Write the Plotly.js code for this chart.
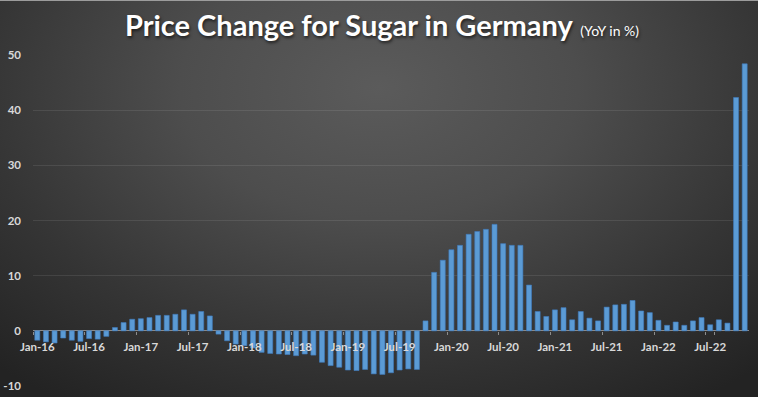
<!DOCTYPE html>
<html>
<head>
<meta charset="utf-8">
<script src="https://cdn.plot.ly/plotly-3.0.1.min.js"></script>
<style>
  html, body { margin: 0; padding: 0; }
  body { width: 758px; height: 397px; overflow: hidden;
    background: radial-gradient(ellipse 75% 95% at 50% 22%, #5b5b5b 0%, #4d4d4d 35%, #353535 70%, #232323 100%); }
  #chart { width: 758px; height: 397px; box-sizing: border-box; border-top: 1px solid #9c9c9c; }
</style>
</head>
<body>
<div id="chart"></div>
<script>
const categories = [
  "Jan-16","Feb-16","Mar-16","Apr-16","May-16","Jun-16","Jul-16","Aug-16","Sep-16","Oct-16","Nov-16","Dec-16",
  "Jan-17","Feb-17","Mar-17","Apr-17","May-17","Jun-17","Jul-17","Aug-17","Sep-17","Oct-17","Nov-17","Dec-17",
  "Jan-18","Feb-18","Mar-18","Apr-18","May-18","Jun-18","Jul-18","Aug-18","Sep-18","Oct-18","Nov-18","Dec-18",
  "Jan-19","Feb-19","Mar-19","Apr-19","May-19","Jun-19","Jul-19","Aug-19","Sep-19","Oct-19","Nov-19","Dec-19",
  "Jan-20","Feb-20","Mar-20","Apr-20","May-20","Jun-20","Jul-20","Aug-20","Sep-20","Oct-20","Nov-20","Dec-20",
  "Jan-21","Feb-21","Mar-21","Apr-21","May-21","Jun-21","Jul-21","Aug-21","Sep-21","Oct-21","Nov-21","Dec-21",
  "Jan-22","Feb-22","Mar-22","Apr-22","May-22","Jun-22","Jul-22","Aug-22","Sep-22","Oct-22","Nov-22"
];
const values2016 = [-1.7, -2.0, -2.2, -1.3, -1.7, -1.9, -1.4, -1.5, -1.0, 0.6, 1.5, 2.1];
const values2017 = [2.2, 2.4, 2.8, 2.8, 3.0, 3.8, 3.0, 3.5, 2.7, -0.6, -1.8, -2.4];
const values2018 = [-2.7, -3.1, -3.9, -4.1, -4.2, -4.3, -4.5, -4.2, -4.4, -5.7, -6.3, -6.6];
const values2019 = [-7.1, -7.2, -7.0, -7.8, -7.9, -7.6, -7.1, -6.9, -7.0, 1.8, 10.6, 12.8];
const values2020 = [14.7, 15.5, 17.5, 18.0, 18.4, 19.3, 15.8, 15.5, 15.5, 8.3, 3.5, 2.6];
const values2021 = [3.8, 4.2, 2.0, 3.5, 2.3, 1.8, 4.3, 4.7, 4.8, 5.5, 3.6, 3.3];
const values2022 = [1.9, 1.0, 1.6, 1.0, 1.8, 2.4, 1.1, 2.0, 1.4, 42.3, 48.4];
const tickLabels = ["Jan-16","Jul-16","Jan-17","Jul-17","Jan-18","Jul-18","Jan-19","Jul-19","Jan-20","Jul-20","Jan-21","Jul-21","Jan-22","Jul-22"];
const yTicks = [-10, 0, 10, 20, 30, 40, 50];

const values = [].concat(values2016, values2017, values2018, values2019, values2020, values2021, values2022);

const trace = {
  type: "bar",
  x: categories,
  y: values,
  marker: { color: "#5b9bd5", line: { color: "#3f7cbf", width: 0.6 } },
  hoverinfo: "x+y"
};

const layout = {
  width: 758, height: 397,
  paper_bgcolor: "rgba(0,0,0,0)",
  plot_bgcolor: "rgba(0,0,0,0)",
  margin: { l: 33, r: 9, t: 54, b: 12, pad: 0 },
  bargap: 0.42,
  showlegend: false,
  title: {
    text: "<b>Price Change for Sugar in Germany</b> <span style='font-size:14px'>(YoY in %)</span>",
    x: 0.504, xanchor: "center", y: 0.937, yanchor: "middle",
    font: { family: "Lato, 'Open Sans', sans-serif", size: 29, color: "#ffffff", shadow: "1px 2px 3px rgba(0,0,0,0.6)" }
  },
  xaxis: {
    type: "category",
    range: [-0.5, categories.length - 0.5],
    tickmode: "array",
    tickvals: tickLabels,
    ticktext: tickLabels,
    tickson: "boundaries",
    ticks: "outside", ticklen: 3, tickcolor: "#8c8c8c", tickwidth: 1,
    ticklabelstandoff: 8,
    showgrid: false, showline: false, zeroline: false,
    anchor: "free", position: 1 / 6,
    tickangle: 0,
    tickfont: { family: "Lato, 'Open Sans', sans-serif", size: 11.5, color: "#d9d9d9", weight: "bold" },
    fixedrange: true
  },
  yaxis: {
    range: [-10, 50],
    tickmode: "array",
    tickvals: yTicks,
    ticktext: yTicks.map(String),
    showgrid: true, gridcolor: "rgba(255,255,255,0.09)", gridwidth: 1,
    zeroline: true, zerolinecolor: "#8a8a8a", zerolinewidth: 1,
    showline: false, ticks: "",
    ticklabelstandoff: 11,
    tickfont: { family: "Lato, 'Open Sans', sans-serif", size: 11.5, color: "#d9d9d9", weight: "bold" },
    fixedrange: true
  }
};

Plotly.newPlot("chart", [trace], layout, { displayModeBar: false, staticPlot: true });
</script>
</body>
</html>
